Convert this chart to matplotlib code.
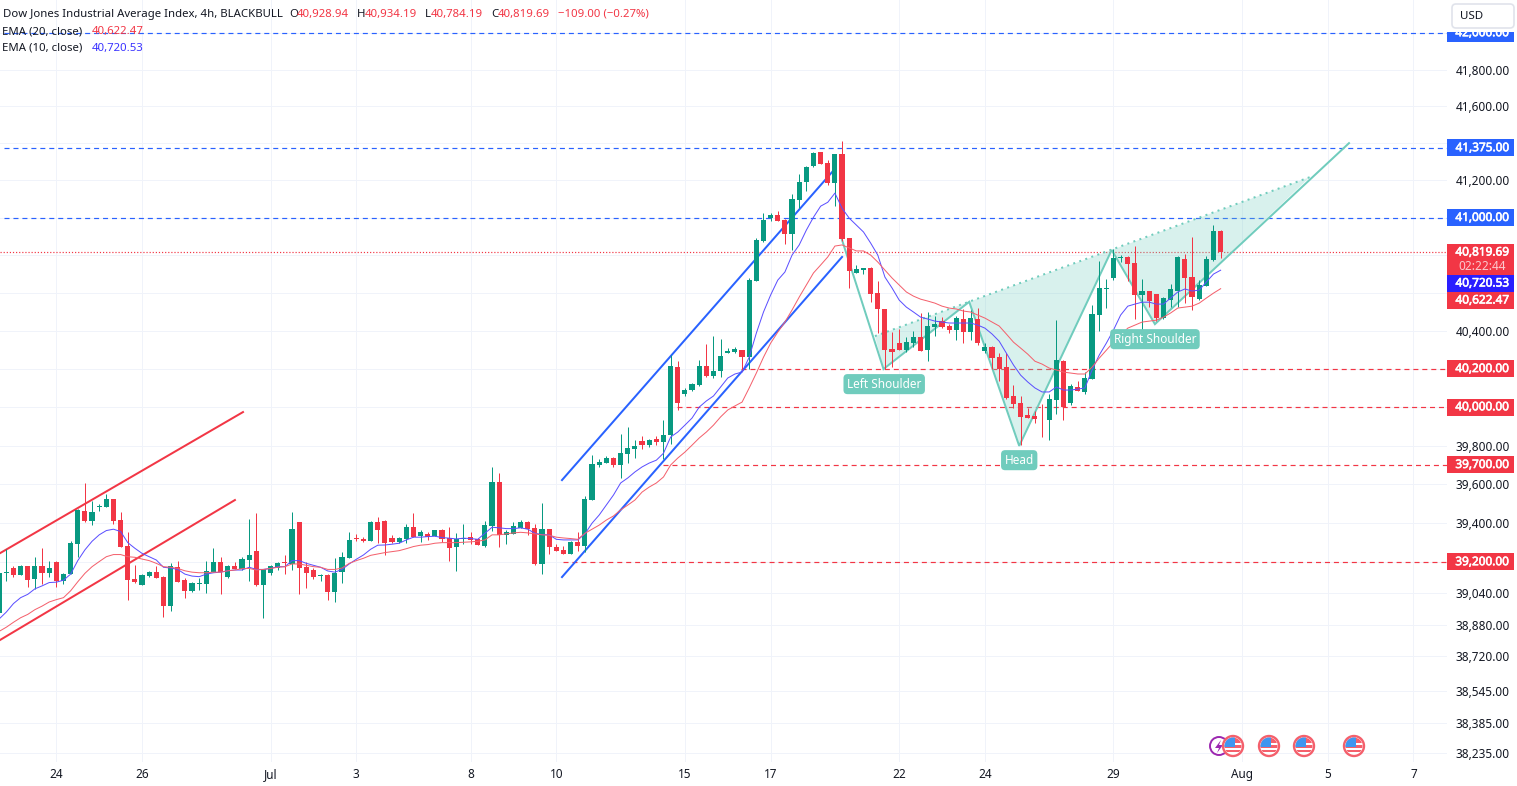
import matplotlib
matplotlib.use("Agg")
import matplotlib.pyplot as plt
import matplotlib.patheffects as pe
from matplotlib.patches import Rectangle, Circle, Polygon, FancyBboxPatch

# ---------- data ----------
opens = [38939,39145,39169,39133,39179,39113,39179,39143,39200,39102,
39138,39293,39462,39411,39484,39483,39524,39416,39282,39113,
39082,39128,39149,39123,38974,39174,39107,39051,39087,39087,
39149,39200,39123,39179,39164,39210,39257,39082,39143,39169,
39198,39190,39405,39174,39159,39126,39133,39046,39149,39221,
39322,39318,39308,39405,39411,39323,39303,39318,39380,39334,
39344,39334,39364,39323,39277,39318,39328,39318,39282,39385,
39611,39339,39344,39375,39405,39375,39190,39370,39277,39262,
39241,39303,39282,39518,39699,39709,39735,39699,39755,39781,
39823,39802,39833,39818,39854,40209,40068,40089,40115,40214,
40162,40188,40282,40288,40298,40261,40663,40876,40998,41014,
40988,40913,41094,41191,41277,41352,41293,41185,41341,40892,
40706,40724,40732,40599,40515,40303,40335,40298,40335,40367,
40298,40420,40451,40425,40404,40462,40393,40462,40293,40314,
40261,40209,40058,40021,39959,39954,39945,39933,40037,40240,
40021,40105,40079,40147,40483,40621,40679,40786,40791,40759,
40588,40610,40594,40467,40562,40610,40780,40684,40567,40637,
40775,40928.94]
highs = [39143,39267,39179,39184,39179,39226,39272,39205,39205,39143,
39308,39472,39606,39514,39498,39550,39524,39457,39354,39184,
39138,39154,39179,39128,39195,39205,39118,39097,39118,39205,
39272,39226,39184,39200,39226,39421,39452,39164,39184,39200,
39236,39457,39405,39200,39169,39138,39138,39221,39251,39354,
39344,39328,39411,39431,39416,39339,39328,39395,39452,39364,
39354,39364,39370,39380,39349,39395,39354,39323,39411,39688,
39657,39364,39405,39416,39411,39395,39503,39370,39293,39282,
39308,39354,39539,39750,39730,39745,39740,39859,39896,39828,
39849,39833,39849,39933,40272,40240,40100,40126,40246,40330,
40372,40356,40309,40314,40298,40679,40892,41025,41025,41035,
40993,41126,41234,41277,41352,41352,41309,41341,41411,40892,
40748,40732,40737,40663,40515,40393,40409,40367,40398,40494,
40499,40478,40472,40435,40478,40515,40510,40520,40335,40319,
40282,40282,40115,40058,39995,39980,40016,40068,40456,40246,
40120,40136,40183,40536,40770,40674,40833,40801,40796,40849,
40674,40610,40594,40578,40647,40796,40807,40897,40668,40796,
40961,40934.19]
lows = [38939,39102,39124,39133,39071,39064,39087,39123,39071,39087,
39138,39226,39405,39390,39462,39483,39395,39277,39005,39092,
39082,39123,39118,38922,38948,39097,39015,39046,39056,39041,
39149,39036,39118,39164,39159,39102,39077,38917,39133,39159,
39138,39159,39036,39066,39113,39102,39005,38995,39092,39221,
39308,39303,39308,39298,39236,39298,39298,39298,39328,39303,
39313,39334,39303,39205,39154,39293,39293,39287,39277,39359,
39277,39293,39344,39375,39339,39184,39138,39241,39257,39241,
39241,39257,39251,39518,39689,39709,39689,39632,39709,39735,
39781,39792,39802,39729,39807,39985,40058,40084,40110,40157,
40152,40157,40282,40282,40188,40199,40663,40871,40982,40982,
40860,40828,41051,41142,41271,41288,41175,41062,40876,40626,
40706,40700,40551,40388,40199,40209,40298,40288,40314,40293,
40240,40372,40414,40388,40351,40335,40351,40324,40282,40199,
40136,40042,39995,39802,39943,39917,39844,39828,39964,39933,
40011,40084,40068,40147,40398,40520,40668,40764,40663,40462,
40404,40525,40451,40462,40525,40525,40546,40510,40562,40637,
40770,40784.19]
closes = [39143,39149,39133,39179,39107,39179,39143,39169,39102,39138,
39298,39466,39411,39457,39488,39524,39411,39277,39107,39097,
39133,39149,39118,38974,39179,39097,39051,39092,39091,39154,
39200,39149,39179,39164,39215,39236,39082,39164,39179,39195,
39194,39370,39169,39143,39123,39133,39046,39143,39226,39313,
39318,39308,39405,39364,39298,39303,39323,39380,39328,39354,
39328,39364,39318,39272,39318,39322,39313,39287,39390,39611,
39339,39354,39385,39405,39370,39190,39370,39277,39257,39241,
39303,39282,39524,39704,39714,39735,39699,39760,39786,39797,
39802,39828,39818,39854,40214,40021,40089,40120,40214,40162,
40188,40266,40293,40303,40261,40668,40881,40988,41014,40982,
40913,41099,41191,41271,41347,41288,41185,41341,40887,40716,
40727,40732,40594,40515,40298,40288,40298,40340,40367,40293,
40425,40435,40420,40404,40467,40393,40467,40335,40314,40256,
40199,40047,40016,39949,39943,39938,39941,40042,40246,40000,
40110,40084,40152,40488,40626,40626,40785,40791,40754,40588,
40610,40557,40467,40573,40621,40791,40679,40578,40642,40780,
40929,40819.69]

ema10 = [38910,38945,38988,39018,39035,39063,39078,39095,39097,39107,
39138,39207,39262,39306,39339,39361,39368,39356,39299,39270,
39244,39227,39210,39173,39169,39162,39138,39128,39125,39138,
39145,39148,39155,39159,39159,39173,39162,39162,39167,39176,
39176,39207,39207,39193,39183,39173,39154,39148,39162,39190,
39214,39236,39265,39286,39287,39291,39296,39313,39327,39327,
39330,39332,39325,39322,39318,39322,39320,39316,39347,39378,
39375,39371,39371,39375,39368,39347,39340,39339,39316,39313,
39313,39313,39344,39399,39441,39492,39544,39606,39632,39663,
39689,39709,39724,39760,39844,39870,39906,39943,40000,40032,
40058,40105,40152,40173,40183,40261,40388,40499,40589,40668,
40711,40801,40855,40934,41003,41062,41083,41132,41051,40998,
40961,40924,40865,40801,40684,40626,40562,40525,40499,40472,
40462,40451,40446,40441,40441,40441,40441,40430,40414,40383,
40345,40282,40220,40167,40131,40100,40079,40079,40105,40089,
40089,40094,40100,40194,40272,40335,40404,40483,40530,40541,
40551,40551,40541,40541,40573,40605,40621,40610,40615,40658,
40700,40720.53]
ema20 = [38847,38868,38893,38916,38933,38957,38975,38996,39008,39018,
39053,39099,39142,39176,39202,39227,39238,39238,39227,39224,
39215,39207,39193,39176,39173,39167,39155,39148,39145,39145,
39148,39148,39155,39159,39166,39167,39159,39162,39167,39173,
39176,39190,39190,39183,39176,39173,39162,39162,39169,39193,
39207,39219,39234,39241,39248,39253,39258,39268,39279,39286,
39289,39296,39299,39299,39299,39301,39303,39306,39313,39339,
39339,39344,39349,39352,39349,39344,39339,39337,39327,39323,
39320,39316,39347,39368,39389,39415,39436,39467,39492,39518,
39559,39585,39606,39637,39699,39735,39766,39802,39839,39870,
39906,39949,39985,40006,40026,40100,40178,40261,40335,40393,
40446,40510,40578,40642,40706,40748,40791,40849,40855,40839,
40823,40823,40801,40764,40721,40679,40642,40605,40583,40567,
40557,40546,40530,40520,40515,40504,40499,40483,40467,40446,
40425,40383,40340,40309,40277,40240,40225,40204,40194,40183,
40178,40173,40173,40209,40256,40298,40340,40377,40414,40430,
40446,40451,40456,40472,40494,40520,40525,40530,40546,40573,
40599,40622.47]

price_ticks = [42000,41800,41600,41400,41200,41000,40800,40600,40400,40200,
               40000,39800,39600,39400,39200,39040,38880,38720,38545,38385,38235]
hidden_ticks = [42000,41000,40800,40600,40200,40000,39200]
date_pos = [8,20,38,50,66,78,96,108,126,138,156,174,186,198]
date_labels = ["24","26","Jul","3","8","10","15","17","22","24","29","Aug","5","7"]

blue_levels = [42000, 41375, 41000]
red_levels = [40200, 40000, 39700, 39200]
red_level_starts = [103.9, 94.9, 92.9, 78.9]

red_channels = [([0.11,34.13],[39245,39974]), ([0.11,33.0],[38803,39518])]
blue_channels = [([78.79,116.6],[39621,41245]), ([78.79,118.0],[39123,40791])]

wave_i = [117.95,123.8,135.8,142.8,155.75,161.8,188.97]
wave_p = [40887,40199,40553,39798,40828,40435,41401]
neck_i = [122.6,183.5]
neck_p = [40372,41218]
label_i = [123.9,142.8,161.8]
label_p = [40120,39724,40356]
label_txt = ["Left Shoulder","Head","Right Shoulder"]

# ---------- style ----------
W, H = 1517, 786
GREEN, RED, BLUE = "#089981", "#F23645", "#2962FF"
EMA_BLUE, EMA_RED = "#5B4FFF", "#F4606C"
TEAL = "#70CCBD"
GRID = "#F0F3FA"
TXT = "#131722"
FONT = ["Noto Sans", "DejaVu Sans"]
plt.rcParams["font.family"] = FONT
PX = 0.72
FS = 8.5

fig = plt.figure(figsize=(W/100, H/100), dpi=100, facecolor="white")
ax = fig.add_axes([0, (H-762)/H, 1447/W, 762/H])
ax.set_yscale("log")
ax.set_xlim(0.112, 202.69)
ax.set_ylim(38190.6, 42181.2)
for s in ax.spines.values():
    s.set_visible(False)
ax.yaxis.tick_right()
ax.set_yticks(price_ticks)
ax.set_yticklabels(["" if v in hidden_ticks else f"{v:,.2f}" for v in price_ticks])
ax.yaxis.set_minor_locator(matplotlib.ticker.NullLocator())
ax.set_xticks(date_pos)
ax.set_xticklabels(date_labels)
ax.tick_params(axis="y", length=0, pad=6.3, labelsize=FS, labelcolor=TXT)
ax.tick_params(axis="x", length=0, pad=4.2, labelsize=FS, labelcolor=TXT)
ax.grid(True, color=GRID, lw=1.0*PX, zorder=0)
ax.set_axisbelow(True)

# levels
LV = 0.86
dash = (0, (4.2, 3.3))
xr = 202.69
for v in blue_levels:
    ax.plot([0.7, xr], [v, v], color=BLUE, lw=LV, ls=dash, zorder=2)
for v, st in zip(red_levels, red_level_starts):
    ax.plot([st, xr], [v, v], color=RED, lw=LV, ls=dash, zorder=2)
ax.plot([0.112, xr], [closes[-1]]*2, color=RED, lw=LV, ls=(0, (1, 1.6)), zorder=2)

# pattern fill & lines
tri1 = [(neck_i[0], neck_p[0]), (wave_i[1], wave_p[1]), (wave_i[2], wave_p[2])]
tri2 = [(wave_i[2], wave_p[2]), (wave_i[3], wave_p[3]), (wave_i[4], wave_p[4])]
tri3 = [(wave_i[4], wave_p[4]), (wave_i[5], wave_p[5]), (neck_i[1], neck_p[1])]
for tri in (tri1, tri2, tri3):
    ax.add_patch(Polygon(tri, closed=True, facecolor=TEAL, alpha=0.27, edgecolor="none", zorder=2.2))
ax.plot(neck_i, neck_p, color=TEAL, lw=2*PX, ls=(0, (1, 2.2)), zorder=2.3)
ax.plot(wave_i, wave_p, color=TEAL, lw=2*PX, zorder=2.4, solid_joinstyle="miter")

# channels
for xs, ys in red_channels:
    ax.plot(xs, ys, color=RED, lw=2*PX, zorder=2.5)
for xs, ys in blue_channels:
    ax.plot(xs, ys, color=BLUE, lw=2*PX, zorder=2.5)

# candles
idx = list(range(len(closes)))
cols = [GREEN if c >= o else RED for o, c in zip(opens, closes)]
ax.vlines(idx, lows, highs, colors=cols, lw=1.0*PX, zorder=3)
bottoms = [min(o, c) for o, c in zip(opens, closes)]
heights = [max(abs(c-o), 3.0) for o, c in zip(opens, closes)]
ax.bar(idx, heights, bottom=bottoms, width=0.72, color=cols, linewidth=0, zorder=3.1)

# EMAs
ax.plot(idx, ema10, color=EMA_BLUE, lw=1.0*PX, zorder=4)
ax.plot(idx, ema20, color=EMA_RED, lw=1.0*PX, zorder=4)

# pattern labels
for xi, pv, t in zip(label_i, label_p, label_txt):
    ax.text(xi, pv, t, color="white", fontsize=FS, ha="center", va="center", zorder=6,
            bbox=dict(boxstyle="round,pad=0.3,rounding_size=0.35", fc=TEAL, ec="none"))

# ---------- overlay in pixel space: price tags, header, icons ----------
ov = fig.add_axes([0, 0, 1, 1], facecolor="none")
ov.set_xlim(0, W)
ov.set_ylim(H, 0)
ov.axis("off")
fig.canvas.draw()

def ypx(price):
    return H - ax.transData.transform((0, price))[1]

def tagtxt(y, s, color="white", bold=True):
    t = ov.text(1482.5, y, s, color=color, fontsize=FS, ha="center", va="center", zorder=6)
    if bold:
        t.set_path_effects([pe.withStroke(linewidth=0.45, foreground=color)])

def tag(center, text, color, h=17):
    ov.add_patch(Rectangle((1447, center-h/2), 67, h, fc=color, ec="none", zorder=5))
    tagtxt(center-0.3, text)

for v in blue_levels:
    tag(ypx(v), f"{v:,.2f}", BLUE)
for v in red_levels:
    tag(ypx(v), f"{v:,.2f}", RED)

# stacked live tags
ov.add_patch(Rectangle((1447, 244), 67, 31, fc=RED, ec="none", zorder=5))
tagtxt(252, f"{closes[-1]:,.2f}")
tagtxt(266, "02:22:44", "#FBC9CD", bold=False)
ov.add_patch(Rectangle((1447, 275), 67, 17, fc="#2A1EFF", ec="none", zorder=5))
tagtxt(283, f"{ema10[-1]:,.2f}")
ov.add_patch(Rectangle((1447, 292), 67, 17, fc=RED, ec="none", zorder=5))
tagtxt(300, f"{ema20[-1]:,.2f}")

# USD box (over the 42,000 tag)
ov.add_patch(Rectangle((1446, 0), 71, 32, fc="white", ec="none", zorder=7))
ov.add_patch(FancyBboxPatch((1452, 4), 62, 24, boxstyle="round,pad=0,rounding_size=4",
                            fc="white", ec="#E0E3EB", lw=1.2, zorder=8))
ov.text(1460, 16.5, "USD", color=TXT, fontsize=8.3, ha="left", va="center", zorder=9)

# header
def hdr(x, y, s, c=TXT):
    ov.text(x, y, s, color=c, fontsize=8.2, ha="left", va="center", zorder=9)

hdr(3, 14.5, "Dow Jones Industrial Average Index, 4h, BLACKBULL")
for xl, l, xv, v in [(289.6, "O", 296.7, "40,928.94"), (357, "H", 364.5, "40,934.19"),
                     (425, "L", 431, "40,784.19"), (491, "C", 498, "40,819.69")]:
    hdr(xl, 14.5, l)
    hdr(xv, 14.5, v, RED)
hdr(558.5, 14.5, "\u2212109.00 (\u22120.27%)", RED)
hdr(2, 31.5, "EMA (20, close)")
hdr(92, 31.5, f"{ema20[-1]:,.2f}", RED)
hdr(2, 48, "EMA (10, close)")
hdr(92, 48, f"{ema10[-1]:,.2f}", "#3A32FF")

# event icons
def flag(cx, cy=746, r=10):
    ov.add_patch(Circle((cx, cy), r, fc="white", ec="#F4606C", lw=1.7, zorder=6))
    clip = Circle((cx, cy), r-1.5, transform=ov.transData)
    for y0, hh in ((cy-r, r-3.5), (cy-1, 2.6), (cy+3.5, 2.6)):
        p = Rectangle((cx-r, y0), 2*r, hh, fc="#F4606C", ec="none", zorder=6.1)
        ov.add_patch(p)
        p.set_clip_path(clip)
    p = Rectangle((cx-r, cy-r), r+2, r+1, fc="#3F96F0", ec="none", zorder=6.2)
    ov.add_patch(p)
    p.set_clip_path(clip)

ov.add_patch(Circle((1219, 746), 9, fc="white", ec="#9C27B0", lw=1.4, zorder=5.5))
ov.add_patch(Polygon([(1221, 740), (1215, 748), (1219, 748), (1217, 753), (1223, 745), (1219, 745)],
                     closed=True, fc="#9C27B0", ec="none", zorder=5.6))
for cx in (1233, 1269, 1304, 1354):
    flag(cx)

fig.savefig("out.png", dpi=100, facecolor="white")
